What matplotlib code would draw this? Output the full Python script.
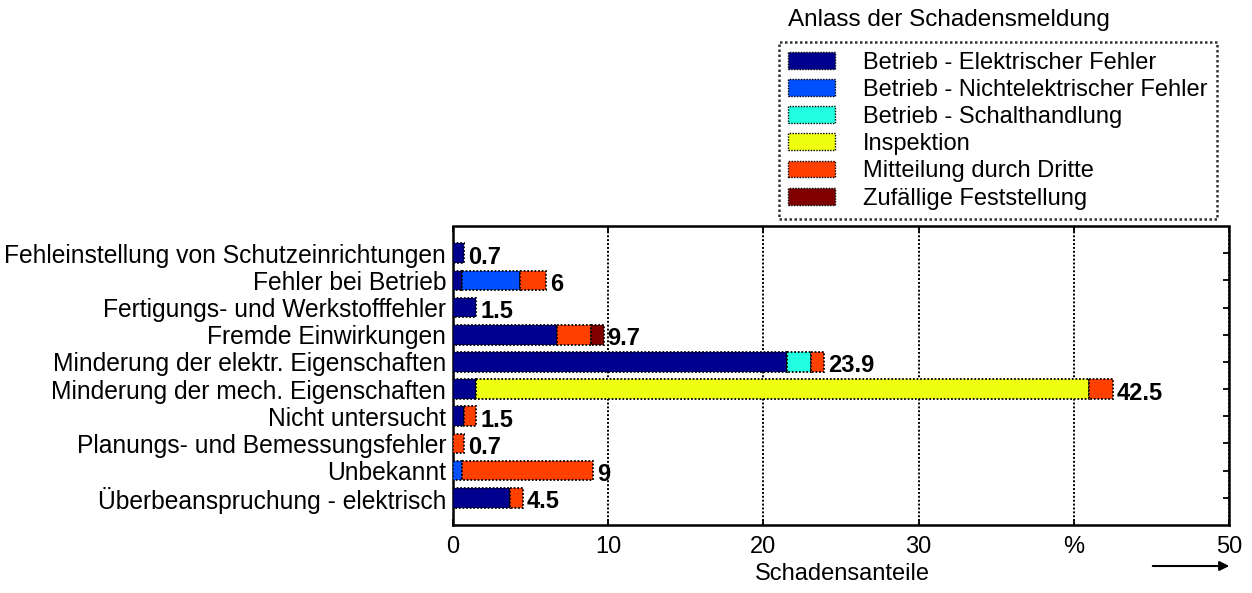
import numpy as np
import matplotlib.pyplot as plt
from matplotlib.patches import Patch

plt.rcParams['font.family'] = ['Liberation Sans', 'DejaVu Sans']

# Data (percent of damage cases)
categories = [
    'Fehleinstellung von Schutzeinrichtungen',
    'Fehler bei Betrieb',
    'Fertigungs- und Werkstofffehler',
    'Fremde Einwirkungen',
    'Minderung der elektr. Eigenschaften',
    'Minderung der mech. Eigenschaften',
    'Nicht untersucht',
    'Planungs- und Bemessungsfehler',
    'Unbekannt',
    'Überbeanspruchung - elektrisch',
]
series_names = [
    'Betrieb - Elektrischer Fehler',
    'Betrieb - Nichtelektrischer Fehler',
    'Betrieb - Schalthandlung',
    'Inspektion',
    'Mitteilung durch Dritte',
    'Zufällige Feststellung',
]
elektrisch = [0.7, 0.6, 1.5, 6.7, 21.5, 1.5, 0.7, 0.0, 0.0, 3.7]
nichtelektrisch = [0.0, 3.7, 0.0, 0.0, 0.0, 0.0, 0.0, 0.0, 0.6, 0.0]
schalthandlung = [0.0, 0.0, 0.0, 0.0, 1.6, 0.0, 0.0, 0.0, 0.0, 0.0]
inspektion = [0.0, 0.0, 0.0, 0.0, 0.0, 39.5, 0.0, 0.0, 0.0, 0.0]
dritte = [0.0, 1.7, 0.0, 2.2, 0.8, 1.5, 0.8, 0.7, 8.4, 0.8]
zufaellig = [0.0, 0.0, 0.0, 0.8, 0.0, 0.0, 0.0, 0.0, 0.0, 0.0]
xticks = [0, 10, 20, 30, 40, 50]
xticklabels = ['0', '10', '20', '30', '%', '50']

colors = ['#00008F', '#0050FF', '#20FFDF', '#EFFF10', '#FF4000', '#800000']
series = [elektrisch, nichtelektrisch, schalthandlung, inspektion, dritte, zufaellig]

fig = plt.figure(figsize=(12.52, 5.93), dpi=100)
ax = fig.add_axes([0.3618, 0.1147, 0.6198, 0.5042])

y = np.arange(1, len(categories) + 1)
left = np.zeros(len(categories))
for vals, col in zip(series, colors):
    vals = np.array(vals)
    m = vals > 0
    ax.barh(y[m], vals[m], left=left[m], height=0.72, color=col,
            edgecolor='black', linewidth=1.3, linestyle=(0, (1, 1)), zorder=3)
    left += vals

for yi, tot in zip(y, left):
    ax.annotate(f'{round(tot, 1):g}', (tot, yi), xytext=(4, -4),
                textcoords='offset pixels', va='center', ha='left',
                fontsize=17, fontweight='bold', zorder=4)

ax.set_xlim(0, 50)
ax.set_ylim(11, 0)
ax.set_xticks(xticks)
ax.set_xticklabels(xticklabels, fontsize=17)
ax.set_yticks(y)
ax.set_yticklabels(categories, fontsize=17.7)
ax.tick_params(axis='y', direction='in', right=True, length=4, width=1.3, pad=5)
ax.tick_params(axis='x', direction='in', top=True, length=4, width=1.3, pad=8)
ax.grid(axis='x', color='black', linestyle=(0, (1, 1)), linewidth=1.4, zorder=0)
for sp in ax.spines.values():
    sp.set_linestyle((0, (1, 1)))
    sp.set_linewidth(1.8)

fig.text(0.6725, 0.022, 'Schadensanteile', ha='center', va='baseline', fontsize=17)
ax.annotate('', xy=(1232, 27), xytext=(1150, 27), xycoords='figure pixels',
            arrowprops=dict(arrowstyle='-|>', color='black', lw=1.5, mutation_scale=14))

fig.text(0.629, 0.966, 'Anlass der Schadensmeldung', ha='left', va='center', fontsize=17.5)
handles = [Patch(facecolor=c, edgecolor='black', linestyle=(0, (1, 1)), linewidth=1.0)
           for c in colors]
leg = fig.legend(handles, series_names, loc='upper left',
                 bbox_to_anchor=(0.622, 0.929), bbox_transform=fig.transFigure,
                 fontsize=17, frameon=True, fancybox=False, borderaxespad=0,
                 borderpad=0.4, labelspacing=0.22, handlelength=2.0,
                 handleheight=0.72, handletextpad=1.15)
frame = leg.get_frame()
frame.set_edgecolor('black')
frame.set_linewidth(1.8)
frame.set_linestyle((0, (1, 1)))

fig.savefig('out.png', dpi=100)
